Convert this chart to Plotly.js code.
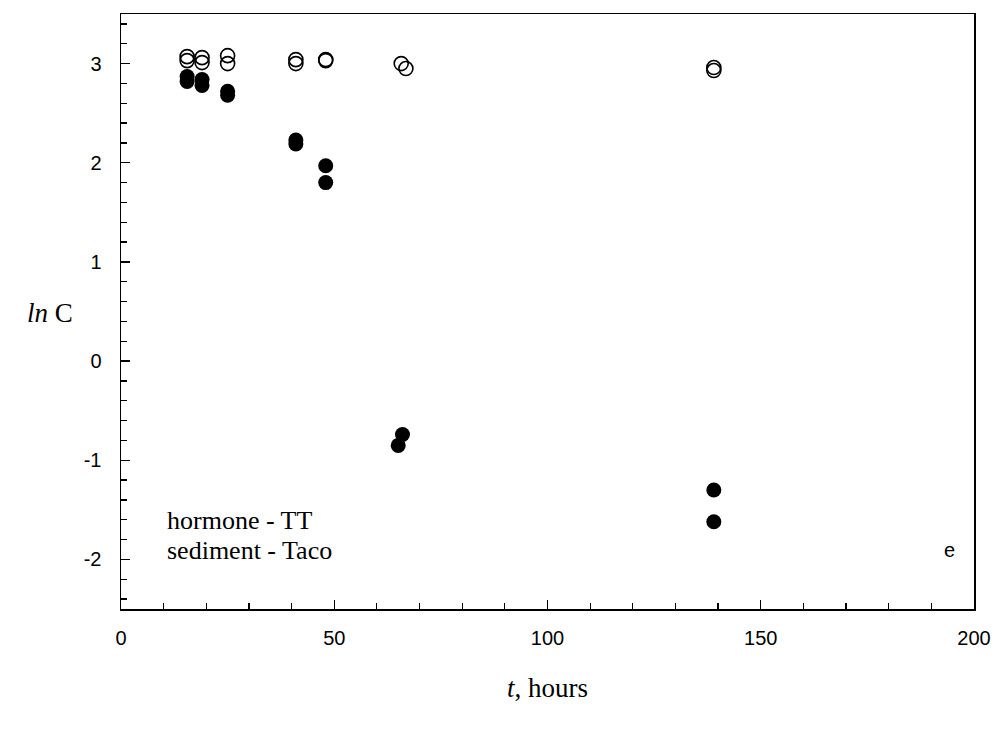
<!DOCTYPE html>
<html>
<head>
<meta charset="utf-8">
<script src="https://cdn.plot.ly/plotly-3.0.1.min.js"></script>
<style>html,body{margin:0;padding:0;background:#fff;}#chart{width:997px;height:732px;}</style>
</head>
<body>
<div id="chart"></div>
<script>
// open circles (hormone in control)
var openT = [15.5, 15.5, 19, 19, 25, 25, 41, 41, 48, 48, 65.7, 66.8, 139, 139];
var openLnC = [3.07, 3.03, 3.06, 3.01, 3.08, 3.00, 3.04, 3.00, 3.04, 3.03, 3.00, 2.95, 2.96, 2.93];
// filled circles
var fillT = [15.5, 15.5, 19, 19, 25, 25, 41, 41, 48, 48, 65, 66, 139, 139];
var fillLnC = [2.87, 2.82, 2.84, 2.78, 2.72, 2.68, 2.23, 2.19, 1.97, 1.80, -0.85, -0.74, -1.30, -1.62];
var yTickVals = [-2, -1, 0, 1, 2, 3];
var yTickText = ["-2", "-1", "0", "1", "2", "3"];
var xTickVals = [0, 50, 100, 150, 200];
var xTickText = ["0", "50", "100", "150", "200"];

var traces = [
  {x: openT, y: openLnC, type: 'scatter', mode: 'markers',
   marker: {symbol: 'circle-open', size: 14, color: '#000', line: {width: 1.6, color: '#000'}},
   hoverinfo: 'x+y', showlegend: false},
  {x: fillT, y: fillLnC, type: 'scatter', mode: 'markers',
   marker: {symbol: 'circle', size: 15, color: '#000'},
   hoverinfo: 'x+y', showlegend: false}
];

var serif = 'Liberation Serif, Times New Roman, serif';
var sans = 'Liberation Sans, Arial, sans-serif';

var layout = {
  width: 997, height: 732,
  margin: {l: 121, r: 23, t: 14, b: 123},
  paper_bgcolor: '#fff', plot_bgcolor: '#fff',
  font: {family: sans, size: 20, color: '#000'},
  xaxis: {
    range: [0, 200], showgrid: false, zeroline: false,
    showline: true, linecolor: '#000', linewidth: 1.5, mirror: true,
    ticks: 'inside', ticklen: 9, tickwidth: 1.2, tickcolor: '#000',
    tickvals: xTickVals, ticktext: xTickText,
    tickfont: {family: sans, size: 20},
    ticklabelstandoff: 10,
    minor: {dtick: 10, ticks: 'inside', ticklen: 6, tickwidth: 1.2, tickcolor: '#000', showgrid: false},
    title: {text: ''}
  },
  yaxis: {
    range: [-2.5, 3.5], showgrid: false, zeroline: false,
    showline: true, linecolor: '#000', linewidth: 1.5, mirror: true,
    ticks: 'inside', ticklen: 9, tickwidth: 1.2, tickcolor: '#000',
    tickvals: yTickVals, ticktext: yTickText,
    tickfont: {family: sans, size: 20},
    ticklabelstandoff: 14,
    minor: {dtick: 0.2, ticks: 'inside', ticklen: 6, tickwidth: 1.2, tickcolor: '#000', showgrid: false},
    title: {text: ''}
  },
  annotations: [
    {xref: 'paper', yref: 'paper', x: 0.5, y: -0.133, xanchor: 'center', yanchor: 'middle',
     text: '<i>t</i>, hours', showarrow: false,
     font: {family: serif, size: 27, color: '#000'}},
    {xref: 'paper', yref: 'paper', x: -0.083, y: 0.497, xanchor: 'center', yanchor: 'middle',
     text: '<i>ln</i> C', showarrow: false,
     font: {family: serif, size: 27, color: '#000'}},
    {xref: 'paper', yref: 'paper', x: 0.051, y: 0.149, xanchor: 'left', yanchor: 'middle',
     text: 'hormone - TT', showarrow: false, align: 'left',
     font: {family: serif, size: 26, color: '#000'}},
    {xref: 'paper', yref: 'paper', x: 0.051, y: 0.098, xanchor: 'left', yanchor: 'middle',
     text: 'sediment - Taco', showarrow: false, align: 'left',
     font: {family: serif, size: 26, color: '#000'}},
    {xref: 'paper', yref: 'paper', x: 0.971, y: 0.099, xanchor: 'center', yanchor: 'middle',
     text: 'e', showarrow: false,
     font: {family: sans, size: 20, color: '#000'}}
  ]
};

Plotly.newPlot('chart', traces, layout, {displayModeBar: false, staticPlot: true});
</script>
</body>
</html>
